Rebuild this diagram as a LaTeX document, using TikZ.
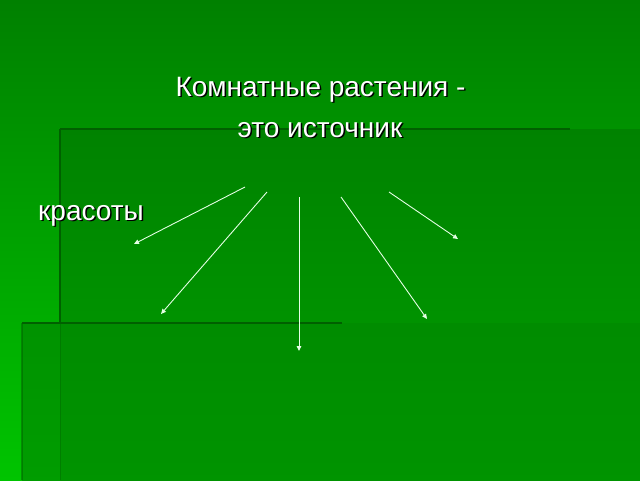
\documentclass[tikz,border=0pt]{standalone}
\usepackage{fontspec}
\setmainfont{Liberation Sans}
\usetikzlibrary{arrows.meta}
\definecolor{bgtop}{RGB}{0,128,0}
\definecolor{bgbot}{RGB}{0,196,0}
\definecolor{atop}{RGB}{0,130,0}
\definecolor{abot}{RGB}{0,160,0}
\definecolor{btop}{RGB}{0,138,0}
\definecolor{bbot}{RGB}{0,144,0}
\definecolor{edge}{RGB}{0,96,0}
\tikzset{
  txt/.style={text=white, font=\fontsize{28}{32}\selectfont, inner sep=0pt},
  shd/.style={text=black, font=\fontsize{28}{32}\selectfont, inner sep=0pt},
  ray/.style={draw=white!90!green, line width=0.9pt, -{Triangle[width=4.5pt,length=5pt]}},
  edgeline/.style={draw=edge, line width=2pt}
}
\begin{document}
\begin{tikzpicture}[x=1pt,y=-1pt]
\useasboundingbox (0,0) rectangle (640,480);
\shade[top color=bgtop, bottom color=bgbot] (0,0) rectangle (640,480);
\shade[top color=atop, bottom color=abot] (60,129) rectangle (640,480);
\shade[top color=btop, bottom color=bbot, opacity=0.75] (22,323) rectangle (640,480);
\draw[edgeline] (60,129) -- (570,129);
\draw[edgeline] (60,129) -- (60,324);
\draw[edge!60!green!60!black, line width=1pt, opacity=0.4] (60,324) -- (60,480);
\draw[edgeline] (22,323) -- (342,323);
\draw[edgeline, opacity=0.5] (22,323) -- (22,480);
% titles
\node[shd, anchor=base] (t1s) at (322,97.5) {Комнатные растения -};
\node[txt, anchor=base] (t1) at (320.5,96) {Комнатные растения -};
\node[shd, anchor=base] (t2s) at (321.5,138.5) {это источник};
\node[txt, anchor=base] (t2) at (320,137) {это источник};
\node[shd, anchor=base west] (t3s) at (39.5,221.5) {красоты};
\node[txt, anchor=base west] (t3) at (38,220) {красоты};
% rays
\coordinate (s1) at (245,187); \coordinate (e1) at (134,244);
\coordinate (s2) at (267,192); \coordinate (e2) at (161,314);
\coordinate (s3) at (299,197); \coordinate (e3) at (299,351);
\coordinate (s4) at (341,197); \coordinate (e4) at (427,319);
\coordinate (s5) at (389,192); \coordinate (e5) at (458,239);
\draw[ray] (s1) -- (e1);
\draw[ray] (s2) -- (e2);
\draw[ray] (s3) -- (e3);
\draw[ray] (s4) -- (e4);
\draw[ray] (s5) -- (e5);
\end{tikzpicture}
\end{document}
